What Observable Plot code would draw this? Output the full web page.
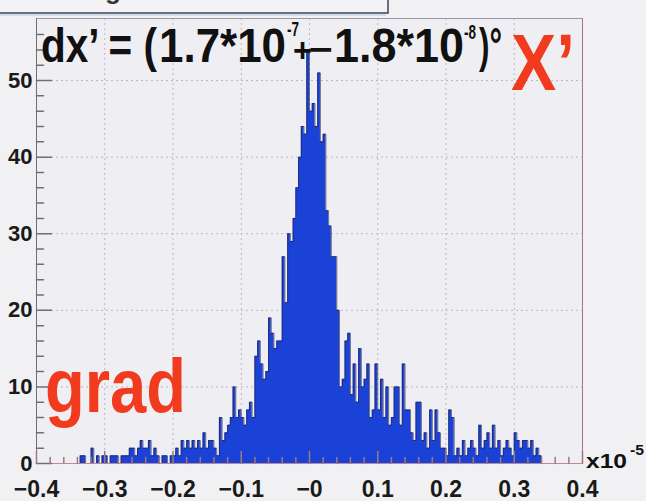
<!DOCTYPE html>
<html><head><meta charset="utf-8">
<script src="https://cdn.jsdelivr.net/npm/d3@7"></script>
<script src="https://cdn.jsdelivr.net/npm/@observablehq/plot@0.6"></script>
<style>
html,body{margin:0;padding:0;background:#f1f1f4;}
#chart{position:relative;width:646px;height:501px;overflow:hidden;}
</style></head><body><div id="chart"></div>
<script>
const xMin = -0.4, xMax = 0.4, binWidth = 0.004;
const counts = [
0,0,0,0,0,0,0,0,0,0,0,0,0,0,0,0,
1,1,0,0,2,0,1,0,1,1,0,1,1,1,0,1,1,1,2,2,1,2,3,2,2,3,1,2,1,0,1,1,0,1,1,
2,1,3,2,3,2,3,2,3,2,4,2,3,3,2,1,6,3,4,5,6,10,6,7,6,5,7,8,6,
14,16,13,11,12,19,17,15,16,16,27,21,30,29,32,36,40,44,43,54,46,47,44,51,42,43,33,31,27,27,
20,10,11,16,17,9,13,8,15,10,11,13,6,7,13,7,11,6,10,5,6,10,10,5,13,7,7,4,3,8,8,3,4,2,7,3,7,4,2,2,
1,7,6,1,2,1,3,1,2,3,2,1,5,2,3,4,2,5,2,3,1,2,3,2,1,4,3,2,3,3,2,3,1,2,1,
0,0,0,0,0,0,0,0,0,0,0,0,0,0,0
];
const xTicks = [-0.4,-0.3,-0.2,-0.1,0,0.1,0.2,0.3,0.4];
const xTickLabels = ["−0.4","−0.3","−0.2","−0.1","−0","0.1","0.2","0.3","0.4"];
const xMinorTicks = [-0.38,-0.36,-0.34,-0.32,-0.28,-0.26,-0.24,-0.22,-0.18,-0.16,-0.14,-0.12,-0.08,-0.06,-0.04,-0.02,
  0.02,0.04,0.06,0.08,0.12,0.14,0.16,0.18,0.22,0.24,0.26,0.28,0.32,0.34,0.36,0.38];
const yTicks = [0,10,20,30,40,50];
const yMinorTicks = [2,4,6,8,12,14,16,18,22,24,26,28,32,34,36,38,42,44,46,48,52,54,56];
const yTop = 58.1;

const outline = counts.slice(15, 186).map((c, k) => ({x: xMin + (k+15)*binWidth, y: c}));

const FONT = "'Liberation Sans', Arial, Helvetica, sans-serif";
const tickShape = {draw(ctx, l) { ctx.moveTo(0, 0); ctx.lineTo(0, -l); }};

const chart = Plot.plot({
  width: 646, height: 501,
  marginLeft: 36, marginRight: 64, marginTop: 18, marginBottom: 38,
  x: {domain: [xMin, xMax]},
  y: {domain: [0, yTop]},
  style: {background: "transparent", fontFamily: FONT, color: "#1a1a1a"},
  marks: [
    Plot.frame({fill: "#efeff3", stroke: null}),
    Plot.ruleX(xTicks.slice(1, -1), {stroke: "#b9b9c2", strokeDasharray: "2,3"}),
    Plot.ruleY(yTicks.slice(1), {stroke: "#b9b9c2", strokeDasharray: "2,3"}),
    Plot.areaY(outline, {x: "x", y: "y", curve: "step-after", fill: "#1a42d6"}),
    Plot.line(outline, {x: "x", y: "y", curve: "step-after", stroke: "#221d3a", strokeWidth: 0.6}),
    Plot.ruleY([yTop], {stroke: "#9a98a8"}),
    Plot.ruleY([0], {stroke: "#c48a92"}),
    Plot.ruleX([xMax], {stroke: "#a8767a"}),
    Plot.ruleX([xMin], {stroke: "#6f6f78"}),
    Plot.vector(yTicks, {y: d => d, frameAnchor: "left", rotate: 90, anchor: "start", length: 15, shape: tickShape, stroke: "#6f6f78"}),
    Plot.vector(yMinorTicks, {y: d => d, frameAnchor: "left", rotate: 90, anchor: "start", length: 7, shape: tickShape, stroke: "#6f6f78"}),
    Plot.vector(xTicks, {x: d => d, frameAnchor: "bottom", rotate: 0, anchor: "start", length: 12, shape: tickShape, stroke: "#9a7a80"}),
    Plot.vector(xMinorTicks, {x: d => d, frameAnchor: "bottom", rotate: 0, anchor: "start", length: 6, shape: tickShape, stroke: "#9a7a80"}),
    Plot.axisY(yTicks, {tickSize: 0, tickPadding: 4, fontSize: 22, fontWeight: "bold", label: null, tickFormat: d => String(d)}),
    Plot.axisX(xTicks, {tickSize: 0, tickPadding: 17, fontSize: 23, fontWeight: "bold", label: null, tickFormat: d => xTickLabels[xTicks.indexOf(d)]})
  ]
});
document.getElementById("chart").appendChild(chart);

// annotations
const svg = d3.select(chart);
const g = svg.append("g").style("font-family", FONT).style("font-weight", "bold").style("text-anchor", "start");
// partially visible title box
g.append("rect").attr("x", -2).attr("y", -30).attr("width", 390).attr("height", 43)
  .attr("fill", "#f3f3f6").attr("stroke", "#4b3d5e").attr("stroke-width", 1.5);
g.append("line").attr("x1", 0).attr("x2", 386).attr("y1", 15).attr("y2", 15).attr("stroke", "#a6cfd0").attr("stroke-width", 1.2);
g.append("text").attr("x", 14).attr("y", -1).attr("font-size", 26).attr("fill", "#333").attr("text-anchor", "start").text("Tracking residuals");

function t(x, y, size, str, len, fill) {
  const e = g.append("text").attr("x", x).attr("y", y).attr("font-size", size)
    .attr("text-anchor", "start").attr("fill", fill || "#111").text(str);
  if (len) e.attr("textLength", len).attr("lengthAdjust", "spacingAndGlyphs");
  return e;
}
// dx' formula
t(41, 62, 49, "dx’ = (", 116);
t(159, 62, 49, "1.7*10", 127);
t(287, 36, 20, "-7", 12);
t(293, 62, 34, "+", 19);
t(309, 61, 34, "−", 24);
t(334, 62, 49, "1.8*10", 130);
t(464, 39, 20, "-8", 12);
t(479, 62, 49, ")°", 23);
// red labels
t(511, 90, 80, "X’", 64, "#f23a1e");
t(45, 412, 76, "grad", 141, "#f23a1e");
// exponent
t(586, 468, 21, "x10", 41);
t(630, 455, 15, "-5", 14);
</script></body></html>
